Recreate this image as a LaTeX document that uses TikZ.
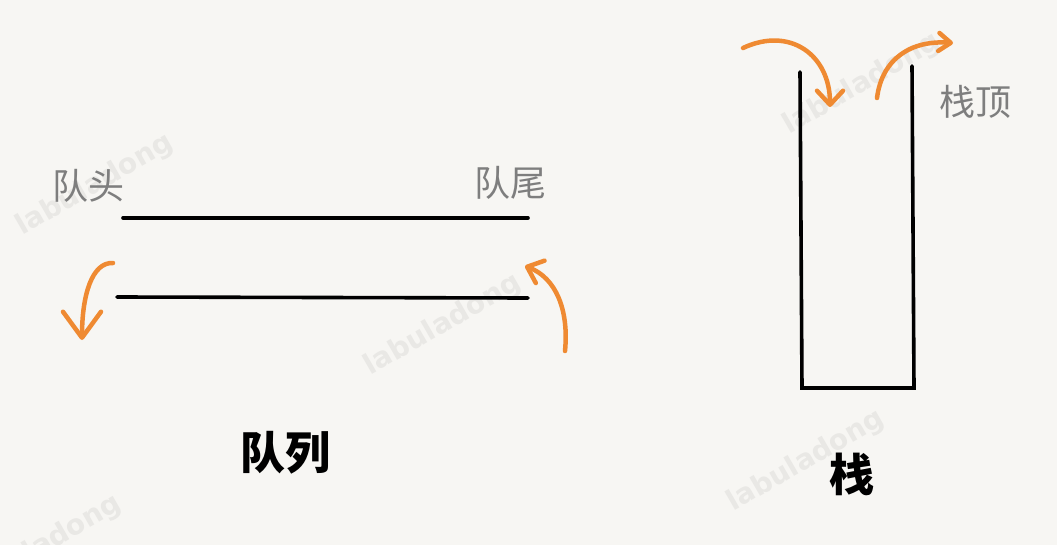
\documentclass[tikz,border=0pt]{standalone}
\usepackage{fontspec}
\usepackage{xcolor}
\usepackage{tikz}
\usetikzlibrary{arrows.meta}
\newfontfamily\cjk{Noto Sans CJK SC}
\newfontfamily\wmfont{DejaVu Sans}
\definecolor{paper}{HTML}{F7F6F3}
\definecolor{hand}{HTML}{EF8A32}
\definecolor{labgray}{HTML}{7E7E7E}
\definecolor{wmgray}{HTML}{E9E8E5}

\begin{document}
\begin{tikzpicture}[
  x=1pt, y=-1pt,
  wall/.style={line width=3.6pt, line cap=round, line join=miter, black},
  curl/.style={line width=4.5pt, line cap=round, hand},
  caption/.style={inner sep=0pt, font=\cjk\fontsize{36}{36}\selectfont, labgray},
  title/.style={inner sep=0pt, font=\cjk\bfseries\fontsize{45}{45}\selectfont, black},
  wmark/.style={inner sep=0pt, rotate=30, wmgray, font=\wmfont\bfseries\fontsize{28}{28}\selectfont},
]

% Paper
\fill[paper] (0,0) rectangle (1057,545);
\useasboundingbox (0,0) rectangle (1057,545);

% Watermarks
\node[wmark] (wm1) at (95,185) {labuladong};
\node[wmark] (wm2) at (862,84) {labuladong};
\node[wmark] (wm3) at (443,325) {labuladong};
\node[wmark] (wm4) at (806,461) {labuladong};
\node[wmark] (wm5) at (43,546) {labuladong};

% Queue
\coordinate (qtopL) at (123,218);
\coordinate (qtopR) at (528,218);
\coordinate (qbotL) at (117,297);
\coordinate (qbotR) at (528,298);
\draw[wall] (qtopL) -- (qtopR);
\draw[wall] (qbotL) -- (qbotR);

\node[caption] (head) at (88,186) {队头};
\node[caption] (tail) at (510,183) {队尾};
\node[title] (queue) at (285,453) {队列};

% Queue arrows
\coordinate (deqS) at (113,263);
\coordinate (deqE) at (82,340);
\coordinate (enqS) at (565,351);
\coordinate (enqE) at (525,266);
\draw[curl, -{Straight Barb[length=26pt, width=38pt, round]}]
  (deqS) .. controls (92,262) and (82,295) .. (deqE);
\draw[curl, -{Straight Barb[length=14pt, width=24pt, round]}]
  (enqS) .. controls (569,310) and (556,278) .. (enqE);

% Stack
\coordinate (stl) at (800,72);
\coordinate (sbl) at (802,388);
\coordinate (sbr) at (914,388);
\coordinate (str) at (912,66);
\draw[wall] (stl) -- (sbl) -- (sbr) -- (str);

\node[caption] (top) at (975,102) {栈顶};
\node[title] (stack) at (852,474) {栈};

% Stack arrows
\coordinate (pushS) at (743,48);
\coordinate (pushE) at (830,107);
\coordinate (popS) at (877,98);
\coordinate (popE) at (953,43);
\draw[curl, -{Straight Barb[length=14pt, width=26pt, round]}]
  (pushS) .. controls (790,26) and (830,55) .. (pushE);
\draw[curl, -{Straight Barb[length=12pt, width=18pt, round]}]
  (popS) .. controls (882,58) and (912,40) .. (popE);

\end{tikzpicture}
\end{document}
